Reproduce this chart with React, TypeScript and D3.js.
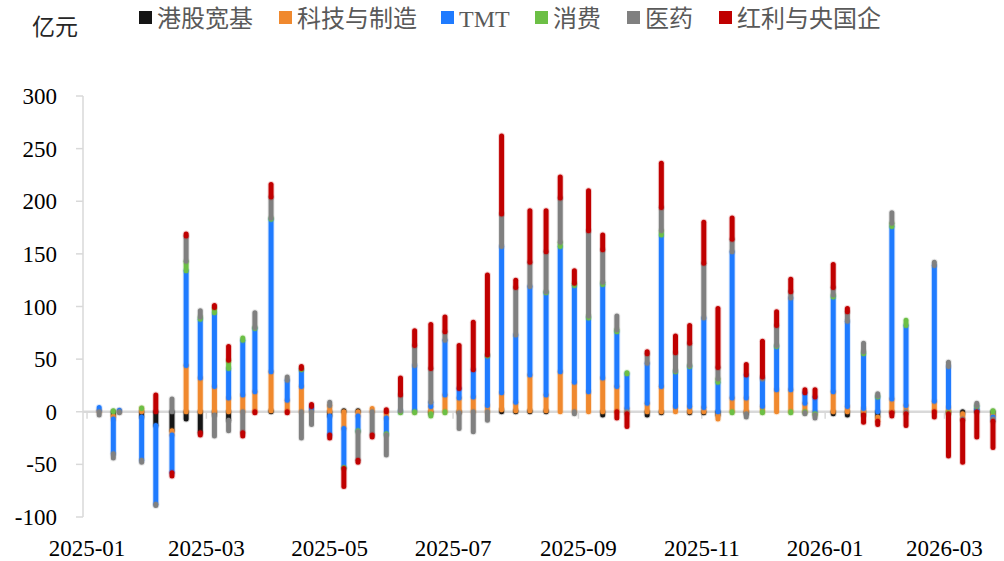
import React from 'react';
import * as d3 from 'd3';

// series
const seriesNames = ['港股宽基', '科技与制造', 'TMT', '消费', '医药', '红利与央国企'];
const seriesColors = ['#151515', '#f0892e', '#1f7bff', '#6cbf45', '#808080', '#c00000'];

// weekly observation dates
const dates = [
  '2025-01-07', '2025-01-14', '2025-01-17', '2025-01-28', '2025-02-04', '2025-02-12', '2025-02-19', '2025-02-26',
  '2025-03-05', '2025-03-12', '2025-03-19', '2025-03-25', '2025-04-02', '2025-04-10', '2025-04-17', '2025-04-22',
  '2025-05-01', '2025-05-08', '2025-05-15', '2025-05-22', '2025-05-29', '2025-06-05', '2025-06-12', '2025-06-20',
  '2025-06-27', '2025-07-04', '2025-07-11', '2025-07-18', '2025-07-25', '2025-08-01', '2025-08-08', '2025-08-16',
  '2025-08-23', '2025-08-30', '2025-09-06', '2025-09-13', '2025-09-20', '2025-09-25', '2025-10-05', '2025-10-12',
  '2025-10-19', '2025-10-26', '2025-11-02', '2025-11-09', '2025-11-16', '2025-11-23', '2025-12-01', '2025-12-08',
  '2025-12-15', '2025-12-22', '2025-12-27', '2026-01-05', '2026-01-12', '2026-01-20', '2026-01-27', '2026-02-03',
  '2026-02-10', '2026-02-24', '2026-03-03', '2026-03-10', '2026-03-17', '2026-03-25'
];

// 亿元
const hkBroad = [
  0, -4, 0, -5, -13, -18, -7, -20, -3, -8, 0, 0, 1, 0, 0, 0,
  -4, 1, 1, 0, 0, 0, 0, -2, 0, -1, 0, 0, 2, 1, 1, 1,
  0, 0, 0, -3, 0, 0, -3, -1, 0, -1, -1, -3, 0, -2, 0, 0,
  0, 0, 0, -2, -3, -3, -5, -1, 0, 0, -1, -2, 2, -3
];
const techMfg = [
  1.5, -3, 1, 3, 0, -4, 44, 32, 24, 13, 16, 19, 37, 11, 24, 2,
  6, -16, -4, 3, -6, 0, 1, 5, 16, 13, 14, 6, 16, 8, 34, 15,
  38, 28, 19, 32, 24, 3, 8, 24, 5, 5, 4, -4, 13, 13, 5, 21,
  21, 8, -2, 19, 5, 3, -4, 12, 6, 10, 4, -5, 0, -2
];
const tmt = [
  2.5, -33, 0.5, -41, -75, -36, 90, 56, 70, 28, 52, 60, 145, 19, 16, 3,
  -18, -37, -14, 0, -15, 1, 43, 4, 52, 9, 26, 47, 139, 64, 84, 97,
  119, 92, 70, 89, 52, 33, 38, 144, 33, 38, 85, 28, 139, 22, 26, 41,
  87, 10, 14, 90, 81, 52, 14, 164, 76, 129, 39, 0, 3, -2
];
const consumer = [
  0, 1, 0, 0.5, 0, 0, 9, 2, 5, 8, 2, 1, 1, 0, 1, 0,
  0, -1, -1, 0, -1, -1, -1, -2, -1, 0, 0, 1, 0, 0, 0, 1,
  4, 2, 2, 2, 2, 1, 0, 4, 1, 1, 0, 3, -1, 0, -1, 1,
  -1, -1, -1, 2, 0, 2, 1, 3, 5, 0, -1, 0, 1, 1
];
const pharma = [
  -3, -4, -1, -2, -1, 12, 24, 6, -20, -10, -20, 14, 20, 3, -25, -12,
  3, 0, -27, -22, -19, 15, 19, 32, 8, -15, -19, -8, 31, 45, 23, 38,
  42, -2, 81, 31, 13, -2, 9, 22, 17, 21, 52, 11, 12, -3, 2, 19,
  6, -1, -3, 7, 9, 8, 2, 10, -2, 3, 4, -1, 2, -2
];
const dividend = [
  0, 0, 0, 0, 16, -3, 2, -2, 2, 13, -3, -1, 12, -1, 2, 2,
  -3, -17, -2, -2, 2, 16, 14, 42, 14, 41, 45, 76, 74, 7, 49, 39,
  20, 12, 38, 14, -6, -12, 2, 42, 16, 17, 39, 56, 20, 10, 34, 13,
  12, 3, 7, 22, 3, -7, -3, -3, -11, -5, -40, -40, -24, -25
];

const yTicks = [-100, -50, 0, 50, 100, 150, 200, 250, 300];
const xTickLabels = ['2025-01', '2025-03', '2025-05', '2025-07', '2025-09', '2025-11', '2026-01', '2026-03'];

const parseDay = d3.timeParse('%Y-%m-%d');
const parseMonth = d3.timeParse('%Y-%m');

const W = 1004;
const H = 561;
const serif = '"Liberation Serif", "Times New Roman", "Noto Sans CJK SC", serif';

export default function App() {
  const x = d3
    .scaleTime()
    .domain([parseDay('2024-12-30') as Date, parseDay('2026-03-26') as Date])
    .range([83, 995]);
  const y = d3.scaleLinear().domain([-100, 300]).range([517, 96]);

  const columns = [hkBroad, techMfg, tmt, consumer, pharma, dividend];
  const rows = dates.map((d, i) => {
    const r: any = { date: parseDay(d) };
    columns.forEach((c, k) => (r[k] = c[i]));
    return r;
  });
  const keys = seriesNames.map((_, k) => String(k));
  const stacked = d3.stack<any>().keys(keys).offset(d3.stackOffsetDiverging)(rows);

  const legendX = [139, 279, 441, 535, 627, 719];

  return (
    <svg width={W} height={H} style={{ position: 'absolute', left: 0, top: 0, background: '#fff' }}>
      {/* unit */}
      <text x={32} y={35} fontSize={23} fill="#262626" fontFamily={serif}>亿元</text>

      {/* legend */}
      {seriesNames.map((name, k) => (
        <g key={name}>
          <rect x={legendX[k]} y={11} width={13} height={13} fill={seriesColors[k]} />
          <text x={legendX[k] + 18} y={27} fontSize={24} fill="#595959" fontFamily={serif}>
            {name}
          </text>
        </g>
      ))}

      {/* y axis */}
      <line x1={83} x2={83} y1={y(-100)} y2={y(300)} stroke="#d9d9d9" strokeWidth={1.5} />
      {yTicks.map((t) => (
        <g key={t}>
          <line x1={76} x2={83} y1={y(t)} y2={y(t)} stroke="#d9d9d9" strokeWidth={1.5} />
          <text x={57} y={y(t) + 8} textAnchor="end" fontSize={23} fill="#000" fontFamily={serif}>
            {t}
          </text>
        </g>
      ))}

      {/* zero line + month ticks */}
      <line x1={83} x2={995} y1={y(0)} y2={y(0)} stroke="#d9d9d9" strokeWidth={2.5} />
      {xTickLabels.map((m) => {
        const px = x(parseMonth(m) as Date);
        return (
          <g key={m}>
            <line x1={px} x2={px} y1={y(0)} y2={y(0) + 7} stroke="#d9d9d9" strokeWidth={1.5} />
            <text x={px} y={556} textAnchor="middle" fontSize={23} fill="#000" fontFamily={serif}>
              {m}
            </text>
          </g>
        );
      })}

      {/* stacked bars drawn as round-capped strokes */}
      {stacked.map((layer, k) => (
        <g key={k} stroke={seriesColors[k]} strokeLinecap="round">
          {layer.map((seg, i) => {
            if (seg[0] === seg[1]) return null;
            const px = x(rows[i].date);
            return (
              <g key={i}>
                <line x1={px} x2={px} y1={y(seg[0])} y2={y(seg[1])} strokeWidth={7} strokeOpacity={0.18} />
                <line x1={px} x2={px} y1={y(seg[0])} y2={y(seg[1])} strokeWidth={5} />
              </g>
            );
          })}
        </g>
      ))}
    </svg>
  );
}
